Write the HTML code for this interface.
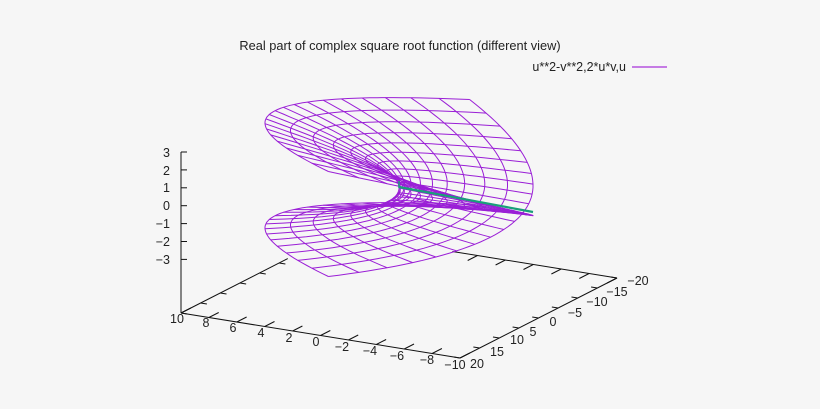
<!DOCTYPE html>
<html><head><meta charset="utf-8"><style>
html,body{margin:0;padding:0;background:#f6f6f6;}
svg{display:block;font-family:"Liberation Sans",sans-serif;}
</style></head><body>
<svg id="s" width="820" height="409" viewBox="0 0 820 409" xmlns="http://www.w3.org/2000/svg">
<rect width="820" height="409" fill="#f6f6f6"/>
<text x="400" y="50" font-size="12.8" text-anchor="middle" fill="#222">Real part of complex square root function (different view)</text>
<text x="626" y="71" font-size="12.5" text-anchor="end" fill="#222">u**2-v**2,2*u*v,u</text>
<line x1="632" y1="67" x2="667" y2="67" stroke="#9400d3" stroke-width="1"/>
<g id="axes" stroke="#111" stroke-width="1" fill="none"></g>
<g id="surf" stroke="#9a1fd6" stroke-width="1" fill="none"></g>
<line x1="399" y1="187" x2="533" y2="212" stroke="#1a9e7a" stroke-width="2.2"/>
<line x1="399" y1="181" x2="399" y2="188" stroke="#1a9e7a" stroke-width="1.5"/>
<g font-size="12.5" fill="#222" text-anchor="end">
<text x="170" y="157">3</text><text x="170" y="175">2</text><text x="170" y="192">1</text>
<text x="170" y="210">0</text><text x="170" y="228">−1</text><text x="170" y="246">−2</text><text x="170" y="264">−3</text>
</g>
<g font-size="12.5" fill="#222" text-anchor="middle">
<text x="177" y="323">10</text><text x="206" y="327">8</text><text x="233" y="332">6</text><text x="261" y="337">4</text>
<text x="289" y="342">2</text><text x="316" y="346">0</text><text x="342" y="351">−2</text><text x="370" y="355">−4</text>
<text x="397" y="360">−6</text><text x="427" y="364">−8</text><text x="455" y="369">−10</text>
<text x="477" y="368">20</text><text x="497" y="356">15</text><text x="517" y="344">10</text><text x="533" y="336">5</text>
<text x="553" y="326">0</text><text x="575" y="317">−5</text><text x="597" y="306">−10</text><text x="617" y="296">−15</text><text x="638" y="285">−20</text>
</g>
</svg>
<script>
(function(){
var NS="http://www.w3.org/2000/svg";
function el(p,n,a){var e=document.createElementNS(NS,n);for(var k in a)e.setAttribute(k,a[k]);p.appendChild(e);return e;}
var ax=document.getElementById('axes');
var L=[181,313],F=[460,358],R=[617,278],B=[338,233];
function ln(a,b){el(ax,'line',{x1:a[0],y1:a[1],x2:b[0],y2:b[1]});}
function lerp(a,b,t){return [a[0]+(b[0]-a[0])*t,a[1]+(b[1]-a[1])*t];}
ln(L,F);ln(F,R);
ln(L,lerp(L,B,0.68));ln(lerp(B,R,0.41),R);
ln([181,152],L);
for(var i=0;i<7;i++){var y=152+i*17.9;ln([181,y],[187,y]);}
for(i=0;i<=10;i++){var t=i/10;
 var p=lerp(L,F,t);ln(p,[p[0]+(R[0]-F[0])/40*2.5,p[1]+(R[1]-F[1])/40*2.5]);
 if(t>=0.41){var q=lerp(B,R,t);ln(q,[q[0]-(R[0]-F[0])/40*2.5,q[1]-(R[1]-F[1])/40*2.5]);}}
for(i=0;i<=8;i++){var t=i/8;
 var p=lerp(F,R,t);ln(p,[p[0]+(L[0]-F[0])/20*0.45,p[1]+(L[1]-F[1])/20*0.45]);
 if(t<=0.68){var q=lerp(L,B,t);ln(q,[q[0]-(L[0]-F[0])/20*0.45,q[1]-(L[1]-F[1])/20*0.45]);}}
var sg=document.getElementById('surf');
var ex=[-13.77,-2.76],eyv=[-3.925,2.0],ez=17.5,O=[399,188];
function P(u,v){var x=u*u-v*v,y=2*u*v,z=u;return [O[0]+ex[0]*x+eyv[0]*y,O[1]+ex[1]*x+eyv[1]*y-ez*z];}
var N=20,d;
for(i=0;i<=N;i++){var u=-3+6*i/N;d='';
 for(var j=0;j<=60;j++){var v=-3+6*j/60;var p=P(u,v);d+=(j?'L':'M')+p[0].toFixed(1)+' '+p[1].toFixed(1);}
 el(sg,'path',{d:d});}
for(i=0;i<=N;i++){var v=-3+6*i/N;d='';
 for(var j=0;j<=60;j++){var u=-3+6*j/60;var p=P(u,v);d+=(j?'L':'M')+p[0].toFixed(1)+' '+p[1].toFixed(1);}
 el(sg,'path',{d:d});}
})();
</script>
</body></html>
